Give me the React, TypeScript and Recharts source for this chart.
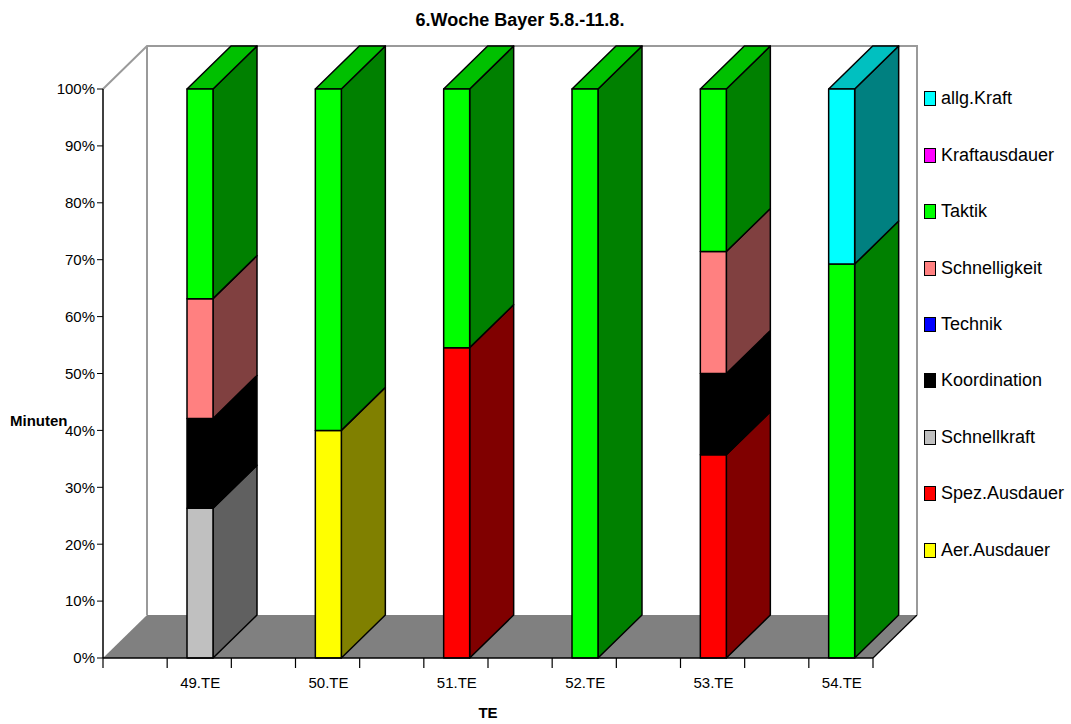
import React from 'react';
import { BarChart, Bar, XAxis, YAxis, Legend } from 'recharts';

// Trainingseinheiten der Woche
const categories = ['49.TE', '50.TE', '51.TE', '52.TE', '53.TE', '54.TE'];

// Minuten je Trainingsinhalt
const aerAusdauer = [0, 40, 0, 0, 0, 0];
const spezAusdauer = [0, 0, 30, 0, 25, 0];
const schnellkraft = [25, 0, 0, 0, 0, 0];
const koordination = [15, 0, 0, 0, 10, 0];
const technik = [0, 0, 0, 0, 0, 0];
const schnelligkeit = [20, 0, 0, 0, 15, 0];
const taktik = [35, 60, 25, 60, 20, 45];
const kraftausdauer = [0, 0, 0, 0, 0, 0];
const allgKraft = [0, 0, 0, 0, 0, 20];

const yTicks = [0, 0.1, 0.2, 0.3, 0.4, 0.5, 0.6, 0.7, 0.8, 0.9, 1];

const CHART_W = 1071;
const CHART_H = 724;
const PLOT_LEFT = 103;
const PLOT_RIGHT = 873;
const PLOT_TOP = 89;
const PLOT_BOTTOM = 658;
const Y_AXIS_W = 60;
const X_AXIS_H = 40;
const DEPTH_X = 44;
const DEPTH_Y = 43;
const BAR_SHIFT = 33;
const BAND = (PLOT_RIGHT - PLOT_LEFT) / categories.length;
const LEGEND_STEP = 56.4;
const FONT = '"Liberation Sans", Arial, sans-serif';

type Series = {
  key: string;
  name: string;
  values: number[];
  front: string;
  side: string;
  top: string;
};

// stacking order, bottom to top
const series: Series[] = [
  { key: 'aer', name: 'Aer.Ausdauer', values: aerAusdauer, front: '#ffff00', side: '#808000', top: '#c0c000' },
  { key: 'spez', name: 'Spez.Ausdauer', values: spezAusdauer, front: '#ff0000', side: '#800000', top: '#c00000' },
  { key: 'skraft', name: 'Schnellkraft', values: schnellkraft, front: '#c0c0c0', side: '#606060', top: '#909090' },
  { key: 'koord', name: 'Koordination', values: koordination, front: '#000000', side: '#000000', top: '#000000' },
  { key: 'technik', name: 'Technik', values: technik, front: '#0000ff', side: '#000080', top: '#0000c0' },
  { key: 'schnell', name: 'Schnelligkeit', values: schnelligkeit, front: '#ff8080', side: '#804040', top: '#c06060' },
  { key: 'taktik', name: 'Taktik', values: taktik, front: '#00ff00', side: '#008000', top: '#00c000' },
  { key: 'kausd', name: 'Kraftausdauer', values: kraftausdauer, front: '#ff00ff', side: '#800080', top: '#c000c0' },
  { key: 'allg', name: 'allg.Kraft', values: allgKraft, front: '#00ffff', side: '#008080', top: '#00c0c0' },
];

const data = categories.map((te, i) => {
  const row: Record<string, string | number> = { te };
  series.forEach((s) => {
    row[s.key] = s.values[i];
  });
  return row;
});

// one stacked segment as a box: front face, right side, and a lid on the topmost one
const Box3D = ({ props, idx }: { props: any; idx: number }) => {
  const { x, y, width, height, payload } = props;
  if (!height || height <= 0) return null;
  const s = series[idx];
  const x0 = x + BAR_SHIFT;
  const x1 = x0 + width;
  const y1 = y + height;
  const isTop = series.slice(idx + 1).every((o) => !payload?.[o.key]);
  const edge = { stroke: '#000', strokeWidth: 1.5, strokeLinejoin: 'round' as const };
  return (
    <g>
      <polygon
        points={`${x1},${y1} ${x1 + DEPTH_X},${y1 - DEPTH_Y} ${x1 + DEPTH_X},${y - DEPTH_Y} ${x1},${y}`}
        fill={s.side}
        {...edge}
      />
      {isTop && (
        <polygon
          points={`${x0},${y} ${x0 + DEPTH_X},${y - DEPTH_Y} ${x1 + DEPTH_X},${y - DEPTH_Y} ${x1},${y}`}
          fill={s.top}
          {...edge}
        />
      )}
      <rect x={x0} y={y} width={width} height={height} fill={s.front} {...edge} />
    </g>
  );
};

const CategoryTick = (props: any) => {
  const { x, payload, index } = props;
  const last = index === categories.length - 1;
  const tick = (tx: number) => (
    <line x1={tx} y1={PLOT_BOTTOM} x2={tx} y2={PLOT_BOTTOM + 10} stroke="#000" strokeWidth={1.2} />
  );
  return (
    <g>
      {tick(x - BAND / 2)}
      {tick(x)}
      {last && tick(x + BAND / 2)}
      <text x={x + BAR_SHIFT} y={PLOT_BOTTOM + 30} textAnchor="middle" fontSize={15} fill="#000" fontFamily={FONT}>
        {payload.value}
      </text>
    </g>
  );
};

const LegendList = (props: any) => {
  const payload: any[] = props.payload ?? [];
  const items = [...series].reverse().map((s) => {
    const p = payload.find((e) => e.dataKey === s.key);
    return { name: s.name, color: p?.color ?? s.front };
  });
  return (
    <div style={{ fontFamily: FONT }}>
      {items.map((it) => (
        <div key={it.name} style={{ height: LEGEND_STEP, display: 'flex', alignItems: 'center' }}>
          <span
            style={{
              display: 'inline-block',
              boxSizing: 'border-box',
              width: 12,
              height: 15,
              background: it.color,
              border: '1.5px solid #000',
              marginRight: 5,
            }}
          />
          <span style={{ fontSize: 18, color: '#000' }}>{it.name}</span>
        </div>
      ))}
    </div>
  );
};

// floor, back wall outline and titles behind the bars
const Backdrop = () => {
  const bl = PLOT_LEFT + DEPTH_X;
  const br = PLOT_RIGHT + DEPTH_X;
  const bt = PLOT_TOP - DEPTH_Y;
  const bb = PLOT_BOTTOM - DEPTH_Y;
  const wall = { stroke: '#9a9a9a', strokeWidth: 2, fill: 'none' };
  return (
    <svg width={CHART_W} height={CHART_H} style={{ position: 'absolute', left: 0, top: 0 }}>
      <polygon
        points={`${PLOT_LEFT},${PLOT_BOTTOM} ${bl},${bb} ${br},${bb} ${PLOT_RIGHT},${PLOT_BOTTOM}`}
        fill="#808080"
      />
      <line x1={br} y1={bb} x2={PLOT_RIGHT} y2={PLOT_BOTTOM} stroke="#000" strokeWidth={1.2} />
      <polyline points={`${PLOT_LEFT},${PLOT_TOP} ${bl},${bt} ${br},${bt} ${br},${bb}`} {...wall} />
      <line x1={bl} y1={bt} x2={bl} y2={bb} {...wall} />
      <text x={520} y={26} textAnchor="middle" fontSize={18} fontWeight="bold" fontFamily={FONT}>
        6.Woche Bayer 5.8.-11.8.
      </text>
      <text x={10} y={426} fontSize={15} fontWeight="bold" fontFamily={FONT}>
        Minuten
      </text>
      <text x={488} y={718} textAnchor="middle" fontSize={15} fontWeight="bold" fontFamily={FONT}>
        TE
      </text>
    </svg>
  );
};

export default function App() {
  return (
    <div style={{ position: 'relative', width: CHART_W, height: CHART_H, background: '#fff', fontFamily: FONT }}>
      <style>{'body{margin:0}'}</style>
      <Backdrop />
      <BarChart
        width={CHART_W}
        height={CHART_H}
        data={data}
        stackOffset="expand"
        margin={{
          top: PLOT_TOP,
          right: CHART_W - PLOT_RIGHT,
          bottom: CHART_H - PLOT_BOTTOM - X_AXIS_H,
          left: PLOT_LEFT - Y_AXIS_W,
        }}
      >
        <XAxis
          dataKey="te"
          height={X_AXIS_H}
          interval={0}
          axisLine={{ stroke: '#000', strokeWidth: 1.5 }}
          tickLine={false}
          tick={CategoryTick}
        />
        <YAxis
          width={Y_AXIS_W}
          domain={[0, 1]}
          ticks={yTicks}
          tickFormatter={(v: number) => `${Math.round(v * 100)}%`}
          axisLine={{ stroke: '#000', strokeWidth: 1.5 }}
          tickLine={{ stroke: '#000' }}
          tickSize={6}
          tick={{ fill: '#000', fontSize: 15, fontFamily: FONT }}
        />
        <Legend
          layout="vertical"
          align="center"
          verticalAlign="middle"
          content={LegendList}
          wrapperStyle={{ left: 924, top: 99 - LEGEND_STEP / 2, width: 147 }}
        />
        {series.map((s, idx) => (
          <Bar
            key={s.key}
            dataKey={s.key}
            name={s.name}
            stackId="te"
            fill={s.front}
            barSize={26}
            isAnimationActive={false}
            shape={(p: any) => <Box3D props={p} idx={idx} />}
          />
        ))}
      </BarChart>
    </div>
  );
}
